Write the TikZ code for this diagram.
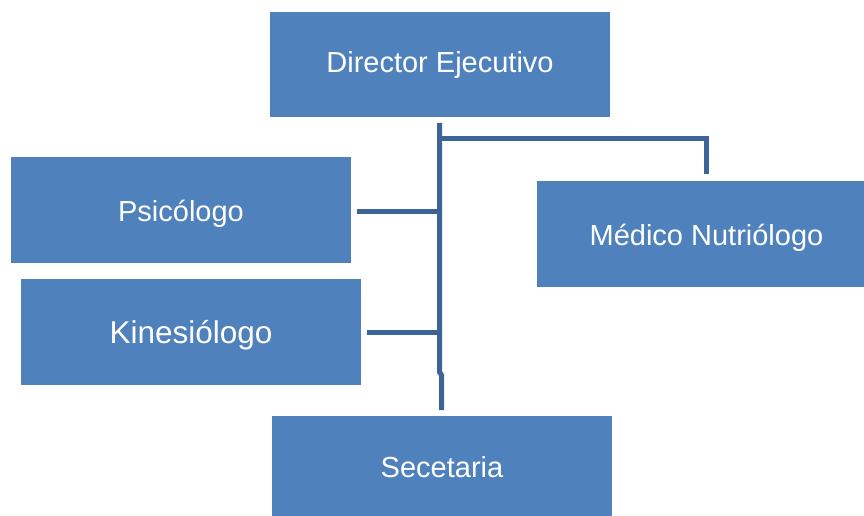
\documentclass[tikz,border=0pt]{standalone}
\usepackage{fontspec}
\setmainfont{Liberation Sans}
\definecolor{boxblue}{HTML}{4F81BD}
\definecolor{linkblue}{HTML}{3C6496}
\begin{document}
\begin{tikzpicture}[x=1pt,y=-1pt,
  orgbox/.style={fill=none,draw=none,text=white,font=\fontsize{29}{34}\selectfont,inner sep=0pt,anchor=base},
  link/.style={draw=linkblue,line width=5pt}]
\useasboundingbox (0,0) rectangle (864,516);
\fill[boxblue] (270,12) rectangle (610,117);
\node[orgbox] (dir) at (440,73) {Director Ejecutivo};
\fill[boxblue] (11,157) rectangle (351,263);
\node[orgbox] (psi) at (181,221) {Psicólogo};
\fill[boxblue] (537,181) rectangle (864,287);
\node[orgbox] (med) at (706.5,245) {Médico Nutriólogo};
\fill[boxblue] (21,279) rectangle (361,385);
\node[orgbox,font=\fontsize{31.5}{36}\selectfont] (kin) at (191,343) {Kinesiólogo};
\fill[boxblue] (272,416) rectangle (612,516);
\node[orgbox] (sec) at (442,477.5) {Secetaria};
\coordinate (top) at (439.5,123);
\coordinate (jog1) at (439.5,372);
\coordinate (jog2) at (441.5,375);
\coordinate (bot) at (441.5,410);
\coordinate (mtop) at (706.5,138);
\coordinate (mend) at (706.5,174);
\coordinate (psiend) at (357,211);
\coordinate (psij) at (439.5,211);
\coordinate (kinend) at (367,332);
\coordinate (kinj) at (439.5,332);
\coordinate (mj) at (439.5,138);
\draw[link] (top) -- (jog1) -- (jog2) -- (bot);
\draw[link] (mj) -- (mtop) -- (mend);
\draw[link] (psiend) -- (psij);
\draw[link] (kinend) -- (kinj);
\end{tikzpicture}
\end{document}
